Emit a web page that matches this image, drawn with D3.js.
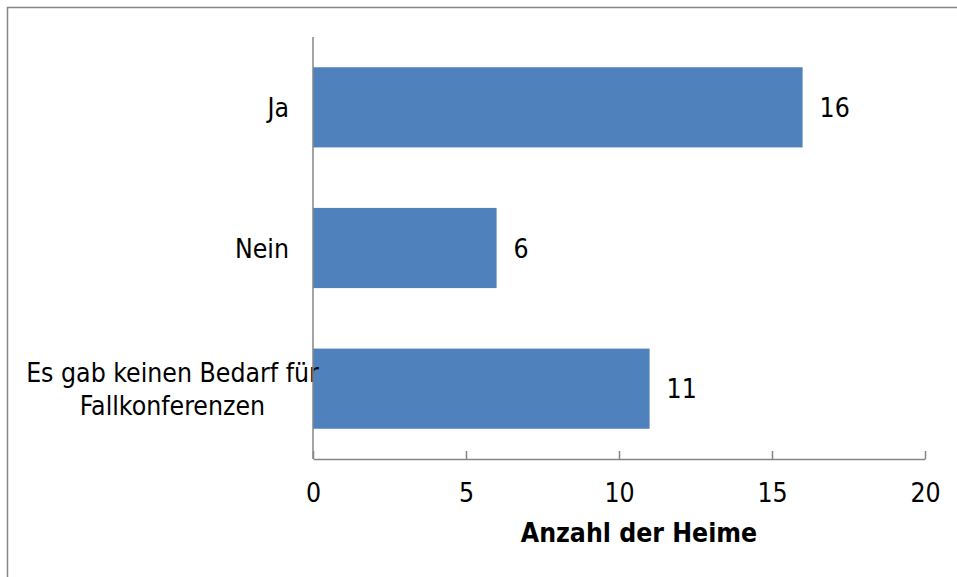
<!DOCTYPE html>
<html>
<head>
<meta charset="utf-8">
<script src="https://cdn.jsdelivr.net/npm/d3@7"></script>
<style>
    body { margin: 0; background: #ffffff; }
    svg text { font-family: "DejaVu Sans Condensed", "DejaVu Sans", sans-serif; font-stretch: condensed; fill: #000000; }
</style>
</head>
<body>
<svg id="chart" width="957" height="577"></svg>
<script>
const answerLabels = [
    ["Ja"],
    ["Nein"],
    ["Es gab keinen Bedarf für", "Fallkonferenzen"]
];
const answerKeys = ["Ja", "Nein", "Kein Bedarf"];
const heimCounts = [16, 6, 11];
const countTicks = [0, 5, 10, 15, 20];
const axisTitle = "Anzahl der Heime";

const frame = { left: 313, right: 925, top: 37, bottom: 459 };
const barBlue = "#4f81bd";
const axisGrey = "#868686";
const fontSize = 26.4;

const svg = d3.select("#chart");

// Outer chart border, only its top and left edges fall inside the picture.
svg.append("rect")
    .attr("x", 7.5)
    .attr("y", 7.5)
    .attr("width", 1000)
    .attr("height", 1000)
    .attr("fill", "none")
    .attr("stroke", axisGrey)
    .attr("stroke-width", 1.5);

const x = d3.scaleLinear()
    .domain([0, 20])
    .range([frame.left, frame.right]);

const y = d3.scaleBand()
    .domain(answerKeys)
    .range([frame.top, frame.bottom])
    .paddingInner(0.43)
    .paddingOuter(0.215);

const rows = answerKeys.map((key, i) => ({
    key,
    lines: answerLabels[i],
    value: heimCounts[i]
}));

svg.selectAll(".bar")
    .data(rows)
    .join("rect")
    .attr("class", "bar")
    .attr("x", x(0))
    .attr("y", d => y(d.key))
    .attr("width", d => x(d.value) - x(0))
    .attr("height", y.bandwidth())
    .attr("fill", barBlue);

svg.selectAll(".value-label")
    .data(rows)
    .join("text")
    .attr("class", "value-label")
    .attr("x", d => x(d.value) + 17)
    .attr("y", d => y(d.key) + y.bandwidth() / 2)
    .attr("dy", "0.36em")
    .style("font-size", `${fontSize}px`)
    .text(d => d.value);

// Category labels: single lines end before the axis, the wrapped one is centred.
const catLabel = svg.selectAll(".cat-label")
    .data(rows)
    .join("text")
    .attr("class", "cat-label")
    .style("font-size", `${fontSize}px`)
    .attr("text-anchor", d => d.lines.length > 1 ? "middle" : "end")
    .attr("x", d => d.lines.length > 1 ? 172.5 : 289)
    .attr("y", d => y(d.key) + y.bandwidth() / 2);

catLabel.selectAll("tspan")
    .data(d => d.lines.map((line, i) => ({ line, i, n: d.lines.length })))
    .join("tspan")
    .attr("x", function () { return d3.select(this.parentNode).attr("x"); })
    .attr("dy", d => d.i === 0 ? `${0.36 - (d.n - 1) * 0.625}em` : "1.25em")
    .text(d => d.line);

// x axis, ticks pointing up into the plot
const xAxis = svg.append("g")
    .attr("transform", `translate(0,${frame.bottom})`)
    .call(d3.axisBottom(x).tickValues(countTicks).tickSize(-8).tickPadding(0).tickSizeOuter(0));

xAxis.select(".domain").attr("stroke", axisGrey).attr("stroke-width", 1.5);
xAxis.selectAll(".tick line").attr("stroke", axisGrey).attr("stroke-width", 1.5);
xAxis.selectAll(".tick text")
    .attr("y", 43)
    .attr("dy", 0)
    .attr("font-family", null)
    .attr("font-size", null)
    .style("font-size", `${fontSize}px`)
    .attr("fill", "#000");

// y axis line only
svg.append("line")
    .attr("x1", frame.left)
    .attr("x2", frame.left)
    .attr("y1", frame.top)
    .attr("y2", frame.bottom)
    .attr("stroke", axisGrey)
    .attr("stroke-width", 1.5);

svg.append("text")
    .attr("x", 639)
    .attr("y", 542)
    .attr("text-anchor", "middle")
    .style("font-size", `${fontSize}px`)
    .style("font-weight", "bold")
    .text(axisTitle);
</script>
</body>
</html>
